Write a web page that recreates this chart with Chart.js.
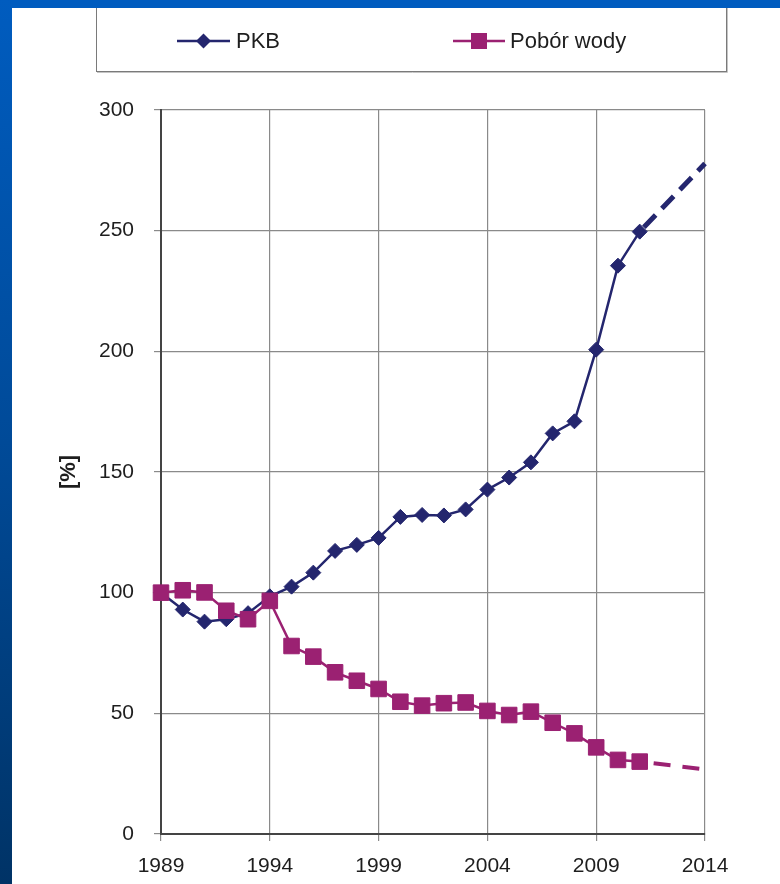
<!DOCTYPE html>
<html>
<head>
<meta charset="utf-8">
<script src="https://cdn.jsdelivr.net/npm/chart.js@4.4.1/dist/chart.umd.min.js"></script>
<style>
  html, body { margin: 0; padding: 0; background: #ffffff; }
  #ramka-gora { position: absolute; left: 0; top: 0; width: 780px; height: 8px; background: #005cbf; z-index: 2; }
  #ramka-lewa { position: absolute; left: 0; top: 0; width: 12px; height: 884px;
    background: linear-gradient(to bottom, #005cbf 0%, #004a98 50%, #003366 100%); z-index: 2; }
  #wykres { position: absolute; left: 0; top: 0; }
</style>
</head>
<body>
<div id="ramka-gora"></div>
<div id="ramka-lewa"></div>
<canvas id="wykres" width="780" height="884"></canvas>
<script>
// dane (1989 = 100%)
const lata = [1989, 1990, 1991, 1992, 1993, 1994, 1995, 1996, 1997, 1998, 1999, 2000,
              2001, 2002, 2003, 2004, 2005, 2006, 2007, 2008, 2009, 2010, 2011];
const pkb = [100, 93, 88, 89, 91.5, 98.5, 102.5, 108.3, 117.3, 119.8, 122.7, 131.4,
             132.2, 132, 134.5, 142.7, 147.7, 154, 166, 171, 200.7, 235.5, 249.6];
const poborWody = [100, 101, 100.1, 92.5, 89, 96.6, 77.9, 73.5, 67, 63.5, 60.1, 54.8,
                   53.2, 54.2, 54.5, 51, 49.3, 50.7, 46.1, 41.7, 35.9, 30.7, 30];

// prognoza (linia przerywana)
const lataPrognozy = [2011, 2014];
const pkbPrognoza = [249.6, 277.8];
const poborPrognoza = [30, 26.8];

const lataOsi = [1989, 1994, 1999, 2004, 2009, 2014];

const kolorPkb = '#24266e';
const kolorWoda = '#9b2172';
const czcionka = "'Liberation Sans', Arial, sans-serif";

function punkty(xs, ys) {
  return xs.map((x, i) => ({ x: x, y: ys[i] }));
}

// własna legenda w ramce (linia + znacznik + opis)
const legendaRamka = {
  id: 'legendaRamka',
  afterDraw(chart) {
    const ctx = chart.ctx;
    ctx.save();
    ctx.fillStyle = '#ffffff';
    ctx.fillRect(96, 0, 630, 71);
    ctx.strokeStyle = '#c4c4c4';
    ctx.lineWidth = 1;
    ctx.beginPath();
    ctx.moveTo(727.5, 0); ctx.lineTo(727.5, 72.5); ctx.lineTo(97, 72.5);
    ctx.stroke();
    ctx.strokeStyle = '#7a7a7a';
    ctx.strokeRect(96.5, -2, 630, 73.5);

    const pozycje = [
      { x1: 177, x2: 230, tekst: 236 },
      { x1: 453, x2: 505, tekst: 510 }
    ];
    const y = 41;
    chart.data.datasets.filter(d => d.wLegendzie).forEach((d, i) => {
      const p = pozycje[i];
      ctx.strokeStyle = d.borderColor;
      ctx.lineWidth = 2.5;
      ctx.beginPath();
      ctx.moveTo(p.x1, y); ctx.lineTo(p.x2, y);
      ctx.stroke();
      const cx = (p.x1 + p.x2) / 2;
      ctx.fillStyle = d.pointBackgroundColor;
      ctx.beginPath();
      if (d.pointStyle === 'rectRot') {
        const r = 7.5;
        ctx.moveTo(cx - r, y); ctx.lineTo(cx, y - r); ctx.lineTo(cx + r, y); ctx.lineTo(cx, y + r);
        ctx.closePath();
      } else {
        ctx.rect(cx - 8, y - 8, 16, 16);
      }
      ctx.fill();
      ctx.fillStyle = '#1e1e1e';
      ctx.font = '22px ' + czcionka;
      ctx.textBaseline = 'middle';
      ctx.textAlign = 'left';
      ctx.fillText(d.label, p.tekst, y + 1);
    });
    ctx.restore();
  }
};

const kontekst = document.getElementById('wykres').getContext('2d');
const wykres = new Chart(kontekst, {
  type: 'line',
  data: {
    datasets: [
      {
        label: 'PKB',
        wLegendzie: true,
        data: punkty(lata, pkb),
        borderColor: kolorPkb,
        backgroundColor: kolorPkb,
        pointBackgroundColor: kolorPkb,
        pointBorderColor: kolorPkb,
        borderWidth: 2.5,
        pointStyle: 'rectRot',
        pointRadius: 7.5,
        pointBorderWidth: 1,
        clip: false,
        order: 2
      },
      {
        label: 'Pobór wody',
        wLegendzie: true,
        data: punkty(lata, poborWody),
        borderColor: kolorWoda,
        backgroundColor: kolorWoda,
        pointBackgroundColor: kolorWoda,
        pointBorderColor: kolorWoda,
        borderWidth: 2.5,
        pointStyle: 'rect',
        pointRadius: 11,
        pointBorderWidth: 1,
        clip: false,
        order: 1
      },
      {
        label: 'Pobór wody - prognoza',
        data: punkty(lataPrognozy, poborPrognoza),
        borderColor: kolorWoda,
        borderWidth: 4,
        borderDash: [17, 12],
        borderDashOffset: -14,
        pointRadius: 0,
        clip: false,
        order: 3
      },
      {
        label: 'PKB - prognoza',
        data: punkty(lataPrognozy, pkbPrognoza),
        borderColor: kolorPkb,
        borderWidth: 5,
        borderDash: [17, 9],
        borderDashOffset: -6,
        pointRadius: 0,
        clip: false,
        order: 4
      }
    ]
  },
  options: {
    responsive: false,
    animation: false,
    layout: { padding: { left: 0, right: 75, top: 110, bottom: 0 } },
    plugins: {
      legend: { display: false },
      tooltip: { enabled: false }
    },
    scales: {
      x: {
        type: 'linear',
        min: 1989,
        max: 2014,
        afterBuildTicks: s => { s.ticks = lataOsi.map(v => ({ value: v })); },
        afterFit: s => { s.height = 50; },
        grid: { color: '#8a8a8a', lineWidth: 1.2, tickLength: 7 },
        border: { color: '#444444', width: 2 },
        ticks: {
          color: '#1e1e1e',
          font: { family: czcionka, size: 21 },
          padding: 13,
          maxRotation: 0,
          callback: v => String(v)
        }
      },
      y: {
        min: 0,
        max: 300,
        afterFit: s => { s.width = 161; },
        grid: { color: '#8a8a8a', lineWidth: 1.2, tickLength: 7 },
        border: { color: '#444444', width: 2 },
        ticks: {
          stepSize: 50,
          color: '#1e1e1e',
          font: { family: czcionka, size: 21 },
          padding: 20
        },
        title: {
          display: true,
          text: '[%]',
          color: '#1e1e1e',
          font: { family: czcionka, size: 22, weight: 'bold' },
          padding: { top: 56, bottom: 0 }
        }
      }
    }
  },
  plugins: [legendaRamka]
});
</script>
</body>
</html>
